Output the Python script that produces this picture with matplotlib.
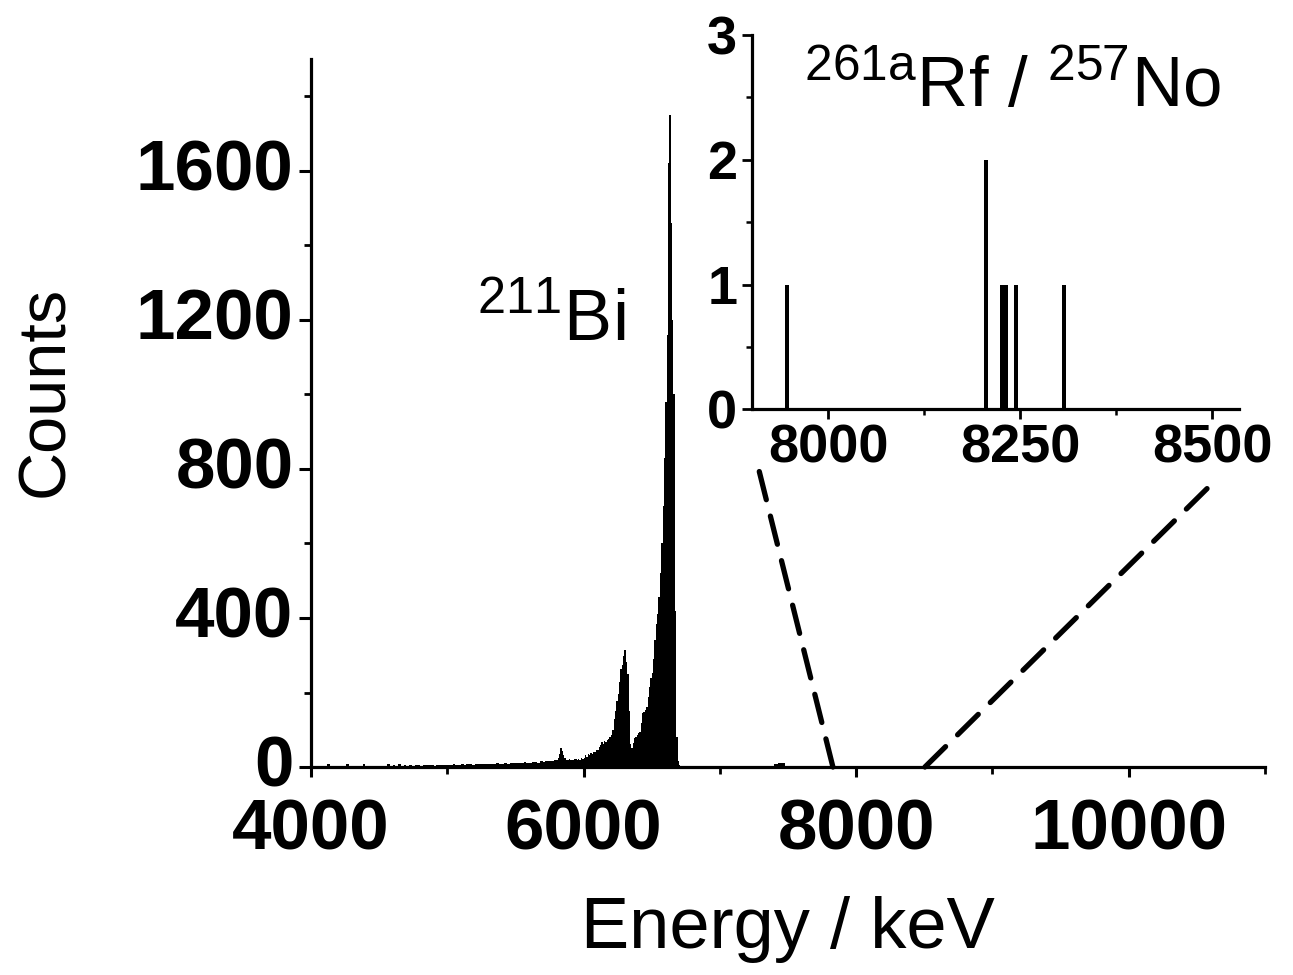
import numpy as np
import matplotlib
matplotlib.use("Agg")
import matplotlib.pyplot as plt
import matplotlib.transforms as mtransforms
from matplotlib.patches import ConnectionPatch
from matplotlib.ticker import MultipleLocator

plt.rcParams["font.family"] = ["Liberation Sans", "DejaVu Sans"]
plt.rcParams["mathtext.fontset"] = "custom"
plt.rcParams["mathtext.rm"] = "Liberation Sans"
plt.rcParams["mathtext.default"] = "regular"

# Spectrum: counts per bin
# 4000-5800 keV, 20 keV bins
low_counts = [1, 1, 2, 1, 1, 2, 7, 1, 2, 1,
              2, 1, 2, 7, 1, 2, 2, 1, 3, 7,
              2, 3, 2, 3, 3, 2, 4, 3, 9, 4,
              5, 4, 8, 4, 5, 3, 6, 4, 5, 5,
              4, 6, 5, 5, 6, 4, 5, 6, 5, 6,
              6, 5, 7, 6, 5, 7, 6, 8, 7, 6,
              7, 8, 7, 9, 8, 7, 9, 8, 10, 9,
              9, 10, 8, 11, 10, 12, 10, 11, 13, 12,
              12, 14, 13, 12, 15, 14, 16, 15, 17, 19]
# 5800-6750 keV, 10 keV bins (211Bi lines)
peak_counts = [20, 24, 36, 50, 44, 32, 24, 20, 18, 21,
               19, 20, 18, 21, 22, 19, 21, 20, 23, 22,
               25, 31, 28, 35, 33, 37, 36, 41, 40, 47,
               46, 55, 58, 68, 62, 70, 66, 72, 76, 80,
               86, 100, 128, 150, 178, 195, 228, 262, 275, 298,
               315, 282, 250, 150, 62, 50, 64, 77, 80, 87,
               92, 95, 118, 145, 148, 154, 160, 188, 214, 240,
               252, 290, 340, 385, 410, 455, 520, 600, 700, 830,
               980, 1160, 1620, 1750, 1460, 1200, 1000, 420, 80, 15,
               5, 3, 2, 1, 1]
# 6750-7600 keV, 25 keV bins (211Po bump near 7450)
high_counts = [1, 0, 1, 0, 0, 1, 0, 0,
               0, 1, 0, 0, 0, 0, 1, 0,
               0, 0, 1, 0, 0, 0, 0, 0,
               0, 2, 8, 11, 10, 4, 0, 1, 0, 0]

low_edges = np.arange(4000, 5800 + 1, 20)
peak_edges = np.arange(5800, 6750 + 1, 10)
high_edges = np.arange(6750, 7600 + 1, 25)

# Inset events (Rf / No region)
event_energy = [7946, 8205, 8226, 8231, 8244, 8307]
event_counts = [1, 2, 1, 1, 1, 1]

zoom_from = [7830, 8505]   # where the dashed lines meet the main axis

fig = plt.figure(figsize=(12.93, 9.75), dpi=100)
ax = fig.add_axes([0.2405, 0.2133, 0.7378, 0.7262])

for edges, counts in [(low_edges, low_counts), (peak_edges, peak_counts),
                      (high_edges, high_counts)]:
    ax.stairs(counts, edges, fill=True, color="black", lw=0)

ax.set_xlim(4000, 11000)
ax.set_ylim(0, 1900)
ax.set_xticks([4000, 6000, 8000, 10000])
ax.xaxis.set_minor_locator(MultipleLocator(1000))
ax.set_yticks([0, 400, 800, 1200, 1600])
ax.yaxis.set_minor_locator(MultipleLocator(200))
for s in ["top", "right"]:
    ax.spines[s].set_visible(False)
for s in ["left", "bottom"]:
    ax.spines[s].set_linewidth(2.3)
ax.tick_params(which="major", length=8.5, width=2.2, labelsize=51, pad=4)
ax.tick_params(which="minor", length=5, width=2.0)
ax.tick_params(axis="x", which="major", length=7.5, pad=15)
for lab in ax.get_xticklabels() + ax.get_yticklabels():
    lab.set_fontweight("bold")
# nudge y tick labels up a touch, as in the original
shift_up = mtransforms.ScaledTranslation(0, 4 / 72, fig.dpi_scale_trans)
for lab in ax.get_yticklabels():
    lab.set_transform(lab.get_transform() + shift_up)

ax.set_xlabel("Energy / keV", fontsize=52, labelpad=23)
ax.set_ylabel("Counts", fontsize=48)
ax.yaxis.set_label_coords(-0.245, 0.53)

ax.text(5765, 1145, r"$^{211}$Bi", fontsize=52, ha="center", va="baseline")

# Inset
ins = fig.add_axes([0.5814, 0.5802, 0.3768, 0.3839])
ins.bar(event_energy, event_counts, width=5.5, color="black")
ins.set_xlim(7900, 8535)
ins.set_ylim(0, 3)
ins.set_xticks([8000, 8250, 8500])
ins.xaxis.set_minor_locator(MultipleLocator(125))
ins.set_yticks([0, 1, 2, 3])
ins.yaxis.set_minor_locator(MultipleLocator(0.5))
ins.patch.set_alpha(0)
for s in ["top", "right"]:
    ins.spines[s].set_visible(False)
for s in ["left", "bottom"]:
    ins.spines[s].set_linewidth(2.3)
ins.tick_params(which="major", length=7.5, width=2.0, labelsize=39, pad=3)
ins.tick_params(which="minor", length=4.5, width=1.8)
for lab in ins.get_xticklabels() + ins.get_yticklabels():
    lab.set_fontweight("bold")
ins.text(0.535, 0.81, r"$^{261a}$Rf / $^{257}$No", transform=ins.transAxes,
         fontsize=51, ha="center", va="baseline")

# Zoom lines
for e_main, e_ins, dy in [(zoom_from[0], 7905, -0.38), (zoom_from[1], 8496, -0.62)]:
    con = ConnectionPatch(xyA=(e_main, 0), coordsA=ax.transData,
                          xyB=(e_ins, dy), coordsB=ins.transData,
                          lw=3.8, ls=(0, (5.5, 3.2)), color="black")
    fig.add_artist(con)

fig.savefig("out.png", dpi=100)
